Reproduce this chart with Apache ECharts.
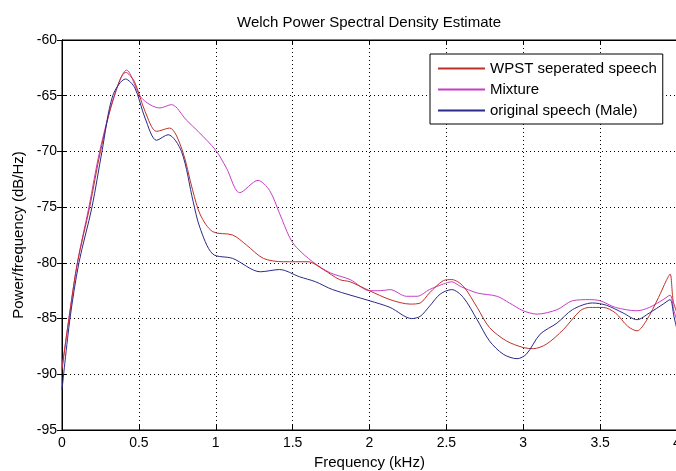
<!DOCTYPE html>
<html>
<head>
<meta charset="utf-8">
<script src="https://cdn.jsdelivr.net/npm/echarts@6/dist/echarts.min.js"></script>
<style>
html,body{margin:0;padding:0;background:#fff;}
#chart{width:676px;height:471px;}
</style>
</head>
<body>
<div id="chart"></div>
<script>
var titleText = 'Welch Power Spectral Density Estimate';
var xName = 'Frequency (kHz)';
var yName = 'Power/frequency (dB/Hz)';
var seriesNames = ['WPST seperated speech', 'Mixture', 'original speech (Male)'];
var xTickLabels = ['0', '0.5', '1', '1.5', '2', '2.5', '3', '3.5', '4'];

var freqWPST = [0, 0.045, 0.10, 0.18, 0.25, 0.33, 0.415, 0.47, 0.54, 0.615, 0.70, 0.78, 0.85, 0.90, 0.98, 1.11, 1.20, 1.31, 1.44, 1.60, 1.70, 1.805, 1.874, 2.0, 2.134, 2.264, 2.33, 2.39, 2.48, 2.535, 2.61, 2.70, 2.78, 2.89, 3.0, 3.065, 3.15, 3.26, 3.37, 3.43, 3.52, 3.60, 3.68, 3.74, 3.80, 3.88, 3.93, 3.955, 3.975, 4.0];
var valWPST = [-89.6, -85, -80, -75, -70, -65.5, -62.9, -63.7, -66.4, -68.2, -67.9, -69.8, -73.5, -75.7, -77.2, -77.5, -78.4, -79.6, -79.9, -79.9, -80.6, -81.5, -81.7, -82.5, -83.3, -83.7, -83.6, -82.7, -81.6, -81.5, -82.1, -84.0, -85.8, -87.0, -87.6, -87.7, -87.3, -86.0, -84.3, -84.0, -84.0, -84.5, -85.7, -86.1, -85.2, -83.1, -81.6, -81.0, -83.4, -84.5];

var freqMix = [0, 0.045, 0.10, 0.175, 0.245, 0.34, 0.42, 0.517, 0.636, 0.712, 0.81, 0.885, 1.0, 1.07, 1.156, 1.275, 1.35, 1.416, 1.48, 1.524, 1.63, 1.745, 1.874, 2.0, 2.07, 2.134, 2.24, 2.31, 2.39, 2.48, 2.535, 2.59, 2.70, 2.83, 2.91, 3.0, 3.09, 3.22, 3.32, 3.43, 3.5, 3.6, 3.74, 3.82, 3.91, 3.955, 3.98, 4.0];
var valMix = [-89.4, -85, -80, -75, -70, -65, -62.7, -65.2, -66.1, -65.8, -67.2, -68.2, -69.9, -71.5, -73.7, -72.6, -73.5, -75.6, -77.7, -78.6, -79.9, -80.9, -81.5, -82.5, -82.5, -82.4, -83.0, -83.0, -82.4, -81.9, -81.7, -82.1, -82.7, -83.0, -83.6, -84.3, -84.6, -84.2, -83.4, -83.3, -83.4, -84.0, -84.3, -84.0, -83.3, -82.9, -84.3, -85.2];

var freqOrig = [0, 0.052, 0.11, 0.195, 0.26, 0.33, 0.413, 0.474, 0.54, 0.615, 0.69, 0.777, 0.853, 0.896, 0.98, 1.11, 1.29, 1.415, 1.545, 1.65, 1.76, 2.0, 2.134, 2.275, 2.33, 2.39, 2.46, 2.535, 2.61, 2.70, 2.78, 2.87, 2.96, 3.02, 3.11, 3.22, 3.32, 3.45, 3.54, 3.65, 3.74, 3.82, 3.91, 3.955, 3.98, 4.0];
var valOrig = [-91.4, -85, -80, -75, -70, -65, -63.5, -64.3, -67.0, -69.0, -68.5, -70.0, -74.5, -76.8, -79.2, -79.6, -80.8, -80.6, -81.25, -81.7, -82.4, -83.4, -84.0, -85.0, -84.8, -83.9, -82.8, -82.4, -83.1, -85.1, -87.0, -88.2, -88.6, -88.2, -86.4, -85.4, -84.2, -83.6, -83.8, -84.5, -85.1, -84.5, -83.7, -83.3, -84.8, -86.0];

var colors = ['#c0302a', '#c83cc8', '#2a2a8a'];

function pairs(xs, ys) {
  var out = [];
  for (var i = 0; i < xs.length; i++) out.push([xs[i], ys[i]]);
  return out;
}

var fontFam = '"Liberation Sans", Arial, sans-serif';
var chart = echarts.init(document.getElementById('chart'), null, {renderer: 'canvas'});

var dotted = {color: '#000', width: 1, type: [1, 3]};

var legendData = seriesNames.map(function (n, i) {
  return {name: n, itemStyle: {color: colors[i]}};
});

var option = {
  animation: false,
  backgroundColor: '#fff',
  textStyle: {fontFamily: fontFam},
  title: {
    text: titleText,
    left: 369,
    top: 15,
    textAlign: 'center',
    padding: 0,
    textStyle: {fontSize: 15, fontWeight: 'normal', color: '#000', fontFamily: fontFam}
  },
  legend: {
    data: legendData,
    orient: 'vertical',
    left: 430,
    top: 54,
    padding: [7, 6, 6, 8],
    icon: 'rect',
    itemWidth: 47,
    itemHeight: 2,
    itemGap: 6,
    backgroundColor: '#fff',
    borderColor: '#000',
    borderWidth: 1,
    borderRadius: 0,
    textStyle: {fontSize: 15, color: '#000', fontFamily: fontFam}
  },
  grid: {
    left: 62, right: -1, top: 40, bottom: 41,
    outerBoundsMode: 'none',
    show: true, borderColor: '#000', borderWidth: 1, backgroundColor: '#fff',
    containLabel: false
  },
  xAxis: [{
    type: 'value', min: 0, max: 4, interval: 0.5,
    name: xName, nameLocation: 'middle', nameGap: 25,
    nameTextStyle: {fontSize: 15, color: '#000', fontFamily: fontFam},
    axisLine: {show: true, lineStyle: {color: '#000', width: 1}},
    axisTick: {show: true, inside: true, length: 5, lineStyle: {color: '#000'}},
    axisLabel: {fontSize: 14, color: '#000', margin: 6, fontFamily: fontFam,
      formatter: function (v) { var i = Math.round(v / 0.5); return xTickLabels[i] !== undefined ? xTickLabels[i] : ''; }},
    splitLine: {show: true, lineStyle: dotted}
  }, {
    type: 'value', min: 0, max: 4, interval: 0.5, position: 'top',
    axisLine: {show: true, lineStyle: {color: '#000'}},
    axisTick: {show: true, inside: true, length: 5, lineStyle: {color: '#000'}},
    axisLabel: {show: false}, splitLine: {show: false}
  }],
  yAxis: [{
    type: 'value', min: -95, max: -60, interval: 5,
    name: yName, nameLocation: 'middle', nameGap: 35,
    nameTextStyle: {fontSize: 15, color: '#000', fontFamily: fontFam},
    axisLine: {show: true, lineStyle: {color: '#000', width: 1}},
    axisTick: {show: true, inside: true, length: 5, lineStyle: {color: '#000'}},
    axisLabel: {fontSize: 14, color: '#000', margin: 5, fontFamily: fontFam},
    splitLine: {show: true, lineStyle: dotted}
  }, {
    type: 'value', min: -95, max: -60, interval: 5, position: 'right',
    axisLine: {show: true, lineStyle: {color: '#000'}},
    axisTick: {show: true, inside: true, length: 5, lineStyle: {color: '#000'}},
    axisLabel: {show: false}, splitLine: {show: false}
  }],
  series: [
    {name: seriesNames[0], type: 'line', data: pairs(freqWPST, valWPST), smooth: 0.3, symbol: 'none', color: colors[0], itemStyle: {color: colors[0]}, lineStyle: {width: 1, color: colors[0]}, z: 3},
    {name: seriesNames[1], type: 'line', data: pairs(freqMix, valMix), smooth: 0.3, symbol: 'none', color: colors[1], itemStyle: {color: colors[1]}, lineStyle: {width: 1, color: colors[1]}, z: 2},
    {name: seriesNames[2], type: 'line', data: pairs(freqOrig, valOrig), smooth: 0.3, symbol: 'none', color: colors[2], itemStyle: {color: colors[2]}, lineStyle: {width: 1, color: colors[2]}, z: 4}
  ]
};
chart.setOption(option);
</script>
</body>
</html>
